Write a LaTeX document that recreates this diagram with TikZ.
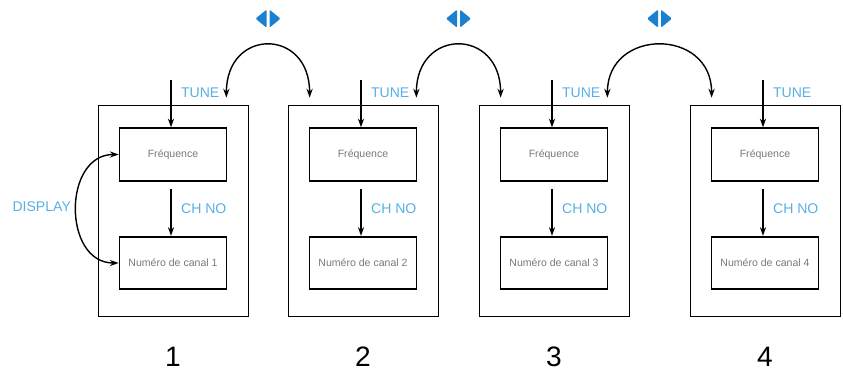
\documentclass[tikz,border=0pt]{standalone}
\usepackage{fontspec}
\setmainfont{Liberation Sans}
\usetikzlibrary{arrows.meta,calc}
\definecolor{tuneblue}{RGB}{86,176,228}
\definecolor{iconblue}{RGB}{28,128,208}
\definecolor{boxtext}{RGB}{120,120,120}

\begin{document}
\begin{tikzpicture}[x=0.02cm, y=-0.02cm,
    panel/.style={draw=black, line width=0.45pt, minimum width=3cm,
                  minimum height=4.22cm, inner sep=0pt},
    inbox/.style={draw=black, line width=1pt, minimum width=2.14cm,
                  minimum height=1.05cm, inner sep=0pt,
                  font=\fontsize{6}{7}\selectfont, text=boxtext},
    lab/.style={font=\fontsize{8}{9}\selectfont, text=tuneblue, inner sep=1pt},
    arr/.style={line width=0.8pt, -{Stealth[length=5pt,width=3.5pt]}},
    swap/.style={line width=0.8pt,
                 {Stealth[length=5pt,width=3.5pt]}-{Stealth[length=5pt,width=3.5pt]}},
    num/.style={font=\fontsize{16}{18}\selectfont}]
  \useasboundingbox (0,0) rectangle (843,377);

  % the four panels
  \foreach \i/\x in {1/173,2/363,3/554,4/765}{
    \node[panel] (out\i) at (\x,210.5) {};
    \node[inbox] (frq\i) at (\x,154.5) {Fréquence};
    \node[inbox] (num\i) at (\x,263) {Numéro de canal \i};
    \coordinate (tin\i) at (\x-2,80);
    \draw[arr] (tin\i) -- (tin\i |- frq\i.north);
    \node[lab, anchor=west] (tune\i) at (\x+6,93) {TUNE};
    \draw[arr] ([xshift=-0.04cm,yshift=-0.14cm]frq\i.south)
          -- ([xshift=-0.04cm]num\i.north);
    \node[lab, anchor=west] (chno\i) at (\x+6,209) {CH NO};
    \node[num] (n\i) at (\x,357) {\i};
  }

  % display toggle
  \draw[swap] (frq1.west) .. controls +(-56,0) and +(-56,0) .. (num1.west);
  \node[lab, anchor=east] (disp) at (73,207) {DISPLAY};

  % links between panels
  \foreach \i/\j in {1/2,2/3,3/4}{
    \coordinate (lft\i) at ([xshift=-0.44cm,yshift=0.14cm]out\i.north east);
    \coordinate (rgt\j) at ([xshift=0.44cm,yshift=0.14cm]out\j.north west);
    \draw[swap] (lft\i) .. controls +(0,-70) and +(0,-70) .. (rgt\j);
    \coordinate (ico\i) at ($(lft\i)!0.5!(rgt\j)+(0,-79)$);
    \fill[iconblue, rounded corners=0.6pt] ($(ico\i)+(-1.5,-9)$) -- ++(0,18) -- ++(-11,-9) -- cycle;
    \fill[iconblue, rounded corners=0.6pt] ($(ico\i)+(1.5,-9)$) -- ++(0,18) -- ++(11,-9) -- cycle;
  }
\end{tikzpicture}
\end{document}
